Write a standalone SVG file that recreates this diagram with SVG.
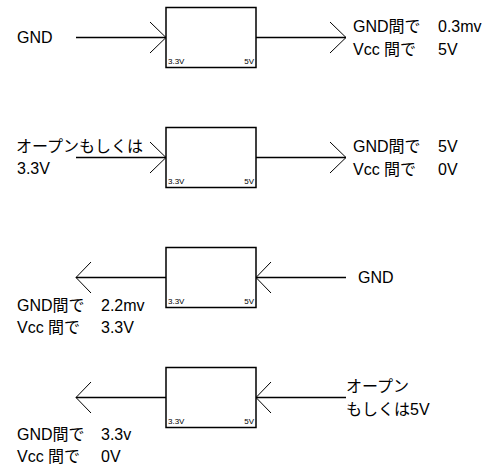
<svg xmlns="http://www.w3.org/2000/svg" width="486" height="472" viewBox="0 0 486 472">
<style>
.box{fill:#fff;stroke:#000;stroke-width:1.5}
.ln{fill:none;stroke:#000;stroke-width:1.3}
.hd{fill:none;stroke:#000;stroke-width:1}
text{font-family:"Liberation Sans","Noto Sans CJK JP",sans-serif;fill:#000}
.t{font-size:16px}
.s{font-size:8px}
</style>
<rect width="486" height="472" fill="#fff"/>
<g id="connectors">
  <line class="ln" x1="76" y1="37.5" x2="166" y2="37.5"/>
  <polyline class="hd" points="150,22 166,37.5 150,53"/>
  <line class="ln" x1="256" y1="37.5" x2="346" y2="37.5"/>
  <polyline class="hd" points="330,22 346,37.5 330,53"/>

  <line class="ln" x1="76" y1="157.5" x2="166" y2="157.5"/>
  <polyline class="hd" points="150,142 166,157.5 150,173"/>
  <line class="ln" x1="256" y1="157.5" x2="346" y2="157.5"/>
  <polyline class="hd" points="330,142 346,157.5 330,173"/>

  <line class="ln" x1="76" y1="277.5" x2="166" y2="277.5"/>
  <polyline class="hd" points="91,262 76,277.5 91,293"/>
  <line class="ln" x1="256" y1="277.5" x2="346" y2="277.5"/>
  <polyline class="hd" points="271,262 256,277.5 271,293"/>

  <line class="ln" x1="76" y1="397.5" x2="166" y2="397.5"/>
  <polyline class="hd" points="91,382 76,397.5 91,413"/>
  <line class="ln" x1="256" y1="397.5" x2="346" y2="397.5"/>
  <polyline class="hd" points="271,382 256,397.5 271,413"/>
</g>
<g id="box1">
  <rect class="box" x="166" y="7.5" width="90" height="60"/>
  <text class="s" x="168" y="64">3.3V</text>
  <text class="s" x="254" y="64" text-anchor="end">5V</text>
</g>
<g id="box2">
  <rect class="box" x="166" y="127.5" width="90" height="60"/>
  <text class="s" x="168" y="184">3.3V</text>
  <text class="s" x="254" y="184" text-anchor="end">5V</text>
</g>
<g id="box3">
  <rect class="box" x="166" y="247.5" width="90" height="60"/>
  <text class="s" x="168" y="304">3.3V</text>
  <text class="s" x="254" y="304" text-anchor="end">5V</text>
</g>
<g id="box4">
  <rect class="box" x="166" y="367.5" width="90" height="60"/>
  <text class="s" x="168" y="424">3.3V</text>
  <text class="s" x="254" y="424" text-anchor="end">5V</text>
</g>
<g id="labels1">
  <text class="t" x="17" y="43">GND</text>
  <text class="t" x="353" y="32">GND間で <tspan x="438">0.3mv</tspan></text>
  <text class="t" x="353" y="55">Vcc 間で <tspan x="438">5V</tspan></text>
</g>
<g id="labels2">
  <text class="t" x="16" y="152">オープンもしくは</text>
  <text class="t" x="17" y="174">3.3V</text>
  <text class="t" x="353" y="152">GND間で <tspan x="438">5V</tspan></text>
  <text class="t" x="353" y="175">Vcc 間で <tspan x="438">0V</tspan></text>
</g>
<g id="labels3">
  <text class="t" x="358" y="283">GND</text>
  <text class="t" x="17" y="311">GND間で <tspan x="101">2.2mv</tspan></text>
  <text class="t" x="17" y="333">Vcc 間で <tspan x="101">3.3V</tspan></text>
</g>
<g id="labels4">
  <text class="t" x="346" y="392">オープン</text>
  <text class="t" x="346" y="415">もしくは5V</text>
  <text class="t" x="17" y="440">GND間で <tspan x="101">3.3v</tspan></text>
  <text class="t" x="17" y="462">Vcc 間で <tspan x="101">0V</tspan></text>
</g>
</svg>
